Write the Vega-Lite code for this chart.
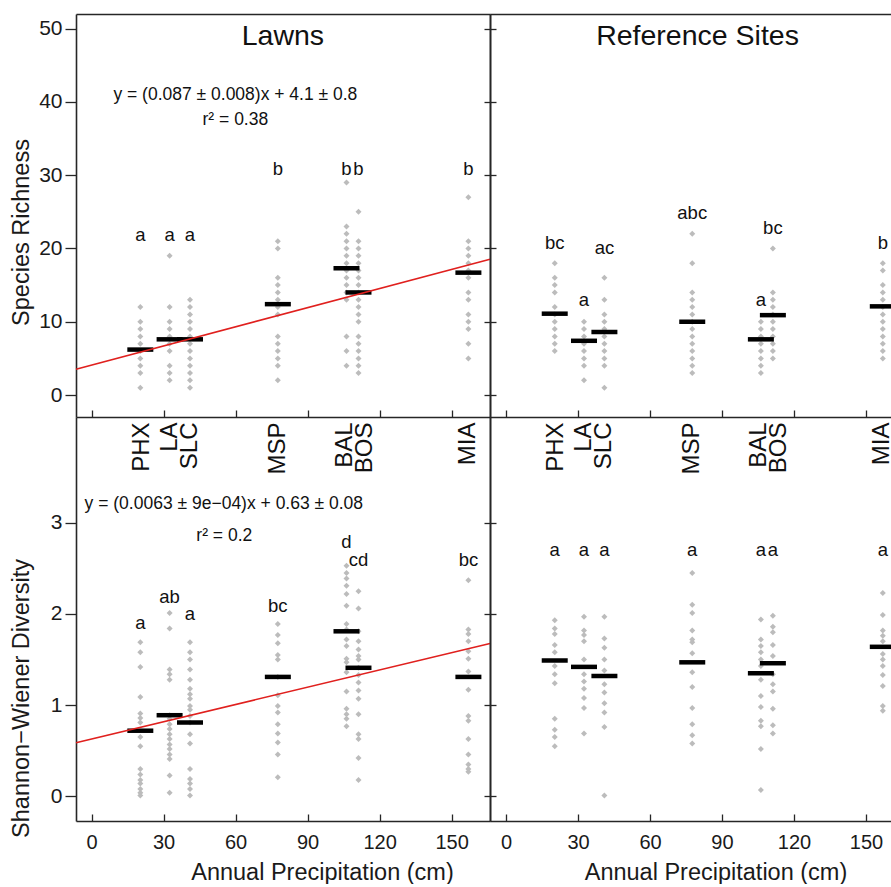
{
  "$schema": "https://vega.github.io/schema/vega-lite/v6.json",
  "padding": {"left": 9, "top": 14, "right": 0, "bottom": 0},
  "background": "white",
  "datasets": {
    "sites": [
      {"city": "PHX", "p": 20.3, "lx": 20.8},
      {"city": "LA", "p": 32.5, "lx": 32.6},
      {"city": "SLC", "p": 41.0, "lx": 40.8},
      {"city": "MSP", "p": 77.6, "lx": 77.6},
      {"city": "BAL", "p": 106.2, "lx": 105.5},
      {"city": "BOS", "p": 111.2, "lx": 113.9},
      {"city": "MIA", "p": 157.0, "lx": 156.8}
    ],
    "richLawn": [
      {"city": "PHX", "v": 12}, {"city": "PHX", "v": 10}, {"city": "PHX", "v": 9}, {"city": "PHX", "v": 8}, {"city": "PHX", "v": 7}, {"city": "PHX", "v": 6}, {"city": "PHX", "v": 5}, {"city": "PHX", "v": 4}, {"city": "PHX", "v": 3}, {"city": "PHX", "v": 1},
      {"city": "LA", "v": 19}, {"city": "LA", "v": 12}, {"city": "LA", "v": 10}, {"city": "LA", "v": 9}, {"city": "LA", "v": 8}, {"city": "LA", "v": 7}, {"city": "LA", "v": 6}, {"city": "LA", "v": 4}, {"city": "LA", "v": 3}, {"city": "LA", "v": 2},
      {"city": "SLC", "v": 13}, {"city": "SLC", "v": 12}, {"city": "SLC", "v": 11}, {"city": "SLC", "v": 10}, {"city": "SLC", "v": 9}, {"city": "SLC", "v": 8}, {"city": "SLC", "v": 7}, {"city": "SLC", "v": 6}, {"city": "SLC", "v": 5}, {"city": "SLC", "v": 4}, {"city": "SLC", "v": 3}, {"city": "SLC", "v": 2}, {"city": "SLC", "v": 1},
      {"city": "MSP", "v": 21}, {"city": "MSP", "v": 20}, {"city": "MSP", "v": 16}, {"city": "MSP", "v": 15}, {"city": "MSP", "v": 14}, {"city": "MSP", "v": 13}, {"city": "MSP", "v": 12}, {"city": "MSP", "v": 11}, {"city": "MSP", "v": 8}, {"city": "MSP", "v": 7}, {"city": "MSP", "v": 6}, {"city": "MSP", "v": 5}, {"city": "MSP", "v": 4}, {"city": "MSP", "v": 2},
      {"city": "BAL", "v": 29}, {"city": "BAL", "v": 23}, {"city": "BAL", "v": 22}, {"city": "BAL", "v": 21}, {"city": "BAL", "v": 20}, {"city": "BAL", "v": 19}, {"city": "BAL", "v": 18}, {"city": "BAL", "v": 17}, {"city": "BAL", "v": 16}, {"city": "BAL", "v": 15}, {"city": "BAL", "v": 14}, {"city": "BAL", "v": 13}, {"city": "BAL", "v": 8}, {"city": "BAL", "v": 6}, {"city": "BAL", "v": 4},
      {"city": "BOS", "v": 25}, {"city": "BOS", "v": 21}, {"city": "BOS", "v": 20}, {"city": "BOS", "v": 19}, {"city": "BOS", "v": 18}, {"city": "BOS", "v": 17}, {"city": "BOS", "v": 16}, {"city": "BOS", "v": 15}, {"city": "BOS", "v": 14}, {"city": "BOS", "v": 13}, {"city": "BOS", "v": 12}, {"city": "BOS", "v": 11}, {"city": "BOS", "v": 10}, {"city": "BOS", "v": 8}, {"city": "BOS", "v": 7}, {"city": "BOS", "v": 6}, {"city": "BOS", "v": 5}, {"city": "BOS", "v": 4}, {"city": "BOS", "v": 3},
      {"city": "MIA", "v": 27}, {"city": "MIA", "v": 21}, {"city": "MIA", "v": 20}, {"city": "MIA", "v": 19}, {"city": "MIA", "v": 18}, {"city": "MIA", "v": 17}, {"city": "MIA", "v": 16}, {"city": "MIA", "v": 14}, {"city": "MIA", "v": 13}, {"city": "MIA", "v": 11}, {"city": "MIA", "v": 10}, {"city": "MIA", "v": 9}, {"city": "MIA", "v": 7}, {"city": "MIA", "v": 5}
    ],
    "richRef": [
      {"city": "PHX", "v": 18}, {"city": "PHX", "v": 16}, {"city": "PHX", "v": 15}, {"city": "PHX", "v": 14}, {"city": "PHX", "v": 12}, {"city": "PHX", "v": 11}, {"city": "PHX", "v": 10}, {"city": "PHX", "v": 9}, {"city": "PHX", "v": 8}, {"city": "PHX", "v": 7}, {"city": "PHX", "v": 6},
      {"city": "LA", "v": 10}, {"city": "LA", "v": 9}, {"city": "LA", "v": 8}, {"city": "LA", "v": 7}, {"city": "LA", "v": 6}, {"city": "LA", "v": 5}, {"city": "LA", "v": 4}, {"city": "LA", "v": 2},
      {"city": "SLC", "v": 16}, {"city": "SLC", "v": 13}, {"city": "SLC", "v": 11}, {"city": "SLC", "v": 10}, {"city": "SLC", "v": 9}, {"city": "SLC", "v": 8}, {"city": "SLC", "v": 7}, {"city": "SLC", "v": 6}, {"city": "SLC", "v": 5}, {"city": "SLC", "v": 4}, {"city": "SLC", "v": 1},
      {"city": "MSP", "v": 22}, {"city": "MSP", "v": 18}, {"city": "MSP", "v": 14}, {"city": "MSP", "v": 13}, {"city": "MSP", "v": 12}, {"city": "MSP", "v": 11}, {"city": "MSP", "v": 10}, {"city": "MSP", "v": 9}, {"city": "MSP", "v": 8}, {"city": "MSP", "v": 7}, {"city": "MSP", "v": 6}, {"city": "MSP", "v": 5}, {"city": "MSP", "v": 4}, {"city": "MSP", "v": 3},
      {"city": "BAL", "v": 10}, {"city": "BAL", "v": 9}, {"city": "BAL", "v": 8}, {"city": "BAL", "v": 7}, {"city": "BAL", "v": 6}, {"city": "BAL", "v": 5}, {"city": "BAL", "v": 4}, {"city": "BAL", "v": 3},
      {"city": "BOS", "v": 20}, {"city": "BOS", "v": 14}, {"city": "BOS", "v": 13}, {"city": "BOS", "v": 12}, {"city": "BOS", "v": 11}, {"city": "BOS", "v": 10}, {"city": "BOS", "v": 9}, {"city": "BOS", "v": 8}, {"city": "BOS", "v": 7}, {"city": "BOS", "v": 6}, {"city": "BOS", "v": 5},
      {"city": "MIA", "v": 18}, {"city": "MIA", "v": 17}, {"city": "MIA", "v": 15}, {"city": "MIA", "v": 14}, {"city": "MIA", "v": 13}, {"city": "MIA", "v": 12}, {"city": "MIA", "v": 11}, {"city": "MIA", "v": 10}, {"city": "MIA", "v": 9}, {"city": "MIA", "v": 8}, {"city": "MIA", "v": 7}, {"city": "MIA", "v": 6}, {"city": "MIA", "v": 5}
    ],
    "divLawn": [
      {"city": "PHX", "v": 1.69}, {"city": "PHX", "v": 1.58}, {"city": "PHX", "v": 1.42}, {"city": "PHX", "v": 1.09}, {"city": "PHX", "v": 0.91}, {"city": "PHX", "v": 0.86}, {"city": "PHX", "v": 0.81}, {"city": "PHX", "v": 0.65}, {"city": "PHX", "v": 0.55}, {"city": "PHX", "v": 0.30}, {"city": "PHX", "v": 0.24}, {"city": "PHX", "v": 0.18}, {"city": "PHX", "v": 0.14}, {"city": "PHX", "v": 0.08}, {"city": "PHX", "v": 0.04}, {"city": "PHX", "v": 0.01},
      {"city": "LA", "v": 2.01}, {"city": "LA", "v": 1.84}, {"city": "LA", "v": 1.39}, {"city": "LA", "v": 1.34}, {"city": "LA", "v": 1.28}, {"city": "LA", "v": 0.89}, {"city": "LA", "v": 0.85}, {"city": "LA", "v": 0.79}, {"city": "LA", "v": 0.74}, {"city": "LA", "v": 0.68}, {"city": "LA", "v": 0.63}, {"city": "LA", "v": 0.57}, {"city": "LA", "v": 0.52}, {"city": "LA", "v": 0.46}, {"city": "LA", "v": 0.41}, {"city": "LA", "v": 0.23}, {"city": "LA", "v": 0.04},
      {"city": "SLC", "v": 1.69}, {"city": "SLC", "v": 1.58}, {"city": "SLC", "v": 1.50}, {"city": "SLC", "v": 1.39}, {"city": "SLC", "v": 1.28}, {"city": "SLC", "v": 1.18}, {"city": "SLC", "v": 1.12}, {"city": "SLC", "v": 1.07}, {"city": "SLC", "v": 0.99}, {"city": "SLC", "v": 0.95}, {"city": "SLC", "v": 0.88}, {"city": "SLC", "v": 0.81}, {"city": "SLC", "v": 0.68}, {"city": "SLC", "v": 0.58}, {"city": "SLC", "v": 0.30}, {"city": "SLC", "v": 0.19}, {"city": "SLC", "v": 0.14}, {"city": "SLC", "v": 0.08}, {"city": "SLC", "v": 0.01},
      {"city": "MSP", "v": 1.89}, {"city": "MSP", "v": 1.77}, {"city": "MSP", "v": 1.68}, {"city": "MSP", "v": 1.55}, {"city": "MSP", "v": 1.50}, {"city": "MSP", "v": 1.31}, {"city": "MSP", "v": 1.11}, {"city": "MSP", "v": 0.99}, {"city": "MSP", "v": 0.92}, {"city": "MSP", "v": 0.79}, {"city": "MSP", "v": 0.69}, {"city": "MSP", "v": 0.59}, {"city": "MSP", "v": 0.46}, {"city": "MSP", "v": 0.21},
      {"city": "BAL", "v": 2.53}, {"city": "BAL", "v": 2.45}, {"city": "BAL", "v": 2.39}, {"city": "BAL", "v": 2.31}, {"city": "BAL", "v": 2.22}, {"city": "BAL", "v": 2.09}, {"city": "BAL", "v": 1.89}, {"city": "BAL", "v": 1.83}, {"city": "BAL", "v": 1.72}, {"city": "BAL", "v": 1.65}, {"city": "BAL", "v": 1.51}, {"city": "BAL", "v": 1.47}, {"city": "BAL", "v": 1.36}, {"city": "BAL", "v": 1.15}, {"city": "BAL", "v": 0.96}, {"city": "BAL", "v": 0.90}, {"city": "BAL", "v": 0.85}, {"city": "BAL", "v": 0.77},
      {"city": "BOS", "v": 2.25}, {"city": "BOS", "v": 2.06}, {"city": "BOS", "v": 1.81}, {"city": "BOS", "v": 1.70}, {"city": "BOS", "v": 1.61}, {"city": "BOS", "v": 1.54}, {"city": "BOS", "v": 1.50}, {"city": "BOS", "v": 1.41}, {"city": "BOS", "v": 1.33}, {"city": "BOS", "v": 1.25}, {"city": "BOS", "v": 1.16}, {"city": "BOS", "v": 1.07}, {"city": "BOS", "v": 0.90}, {"city": "BOS", "v": 0.68}, {"city": "BOS", "v": 0.63}, {"city": "BOS", "v": 0.42}, {"city": "BOS", "v": 0.18},
      {"city": "MIA", "v": 2.37}, {"city": "MIA", "v": 1.83}, {"city": "MIA", "v": 1.78}, {"city": "MIA", "v": 1.70}, {"city": "MIA", "v": 1.59}, {"city": "MIA", "v": 1.51}, {"city": "MIA", "v": 1.37}, {"city": "MIA", "v": 1.17}, {"city": "MIA", "v": 0.88}, {"city": "MIA", "v": 0.83}, {"city": "MIA", "v": 0.63}, {"city": "MIA", "v": 0.46}, {"city": "MIA", "v": 0.35}, {"city": "MIA", "v": 0.30}, {"city": "MIA", "v": 0.27}
    ],
    "divRef": [
      {"city": "PHX", "v": 1.93}, {"city": "PHX", "v": 1.84}, {"city": "PHX", "v": 1.78}, {"city": "PHX", "v": 1.66}, {"city": "PHX", "v": 1.58}, {"city": "PHX", "v": 1.43}, {"city": "PHX", "v": 1.34}, {"city": "PHX", "v": 1.24}, {"city": "PHX", "v": 0.85}, {"city": "PHX", "v": 0.73}, {"city": "PHX", "v": 0.65}, {"city": "PHX", "v": 0.55},
      {"city": "LA", "v": 1.97}, {"city": "LA", "v": 1.82}, {"city": "LA", "v": 1.77}, {"city": "LA", "v": 1.70}, {"city": "LA", "v": 1.50}, {"city": "LA", "v": 1.34}, {"city": "LA", "v": 1.26}, {"city": "LA", "v": 1.18}, {"city": "LA", "v": 1.08}, {"city": "LA", "v": 0.97}, {"city": "LA", "v": 0.69},
      {"city": "SLC", "v": 1.97}, {"city": "SLC", "v": 1.73}, {"city": "SLC", "v": 1.63}, {"city": "SLC", "v": 1.50}, {"city": "SLC", "v": 1.38}, {"city": "SLC", "v": 1.23}, {"city": "SLC", "v": 1.14}, {"city": "SLC", "v": 1.02}, {"city": "SLC", "v": 0.92}, {"city": "SLC", "v": 0.76}, {"city": "SLC", "v": 0.01},
      {"city": "MSP", "v": 2.45}, {"city": "MSP", "v": 2.10}, {"city": "MSP", "v": 2.01}, {"city": "MSP", "v": 1.82}, {"city": "MSP", "v": 1.72}, {"city": "MSP", "v": 1.69}, {"city": "MSP", "v": 1.57}, {"city": "MSP", "v": 1.36}, {"city": "MSP", "v": 1.20}, {"city": "MSP", "v": 0.97}, {"city": "MSP", "v": 0.79}, {"city": "MSP", "v": 0.67}, {"city": "MSP", "v": 0.58},
      {"city": "BAL", "v": 1.94}, {"city": "BAL", "v": 1.72}, {"city": "BAL", "v": 1.65}, {"city": "BAL", "v": 1.58}, {"city": "BAL", "v": 1.50}, {"city": "BAL", "v": 1.43}, {"city": "BAL", "v": 1.28}, {"city": "BAL", "v": 1.10}, {"city": "BAL", "v": 0.98}, {"city": "BAL", "v": 0.83}, {"city": "BAL", "v": 0.77}, {"city": "BAL", "v": 0.52}, {"city": "BAL", "v": 0.07},
      {"city": "BOS", "v": 1.98}, {"city": "BOS", "v": 1.86}, {"city": "BOS", "v": 1.80}, {"city": "BOS", "v": 1.66}, {"city": "BOS", "v": 1.54}, {"city": "BOS", "v": 1.34}, {"city": "BOS", "v": 1.23}, {"city": "BOS", "v": 1.15}, {"city": "BOS", "v": 0.96}, {"city": "BOS", "v": 0.78}, {"city": "BOS", "v": 0.69},
      {"city": "MIA", "v": 2.23}, {"city": "MIA", "v": 1.99}, {"city": "MIA", "v": 1.82}, {"city": "MIA", "v": 1.76}, {"city": "MIA", "v": 1.70}, {"city": "MIA", "v": 1.56}, {"city": "MIA", "v": 1.50}, {"city": "MIA", "v": 1.43}, {"city": "MIA", "v": 1.33}, {"city": "MIA", "v": 1.21}, {"city": "MIA", "v": 0.99}, {"city": "MIA", "v": 0.94}
    ],
    "means": [
      {"g": "richLawn", "city": "PHX", "mean": 6.2}, {"g": "richLawn", "city": "LA", "mean": 7.6}, {"g": "richLawn", "city": "SLC", "mean": 7.6}, {"g": "richLawn", "city": "MSP", "mean": 12.4}, {"g": "richLawn", "city": "BAL", "mean": 17.3}, {"g": "richLawn", "city": "BOS", "mean": 14.0}, {"g": "richLawn", "city": "MIA", "mean": 16.7},
      {"g": "richRef", "city": "PHX", "mean": 11.1}, {"g": "richRef", "city": "LA", "mean": 7.4}, {"g": "richRef", "city": "SLC", "mean": 8.6}, {"g": "richRef", "city": "MSP", "mean": 10.0}, {"g": "richRef", "city": "BAL", "mean": 7.6}, {"g": "richRef", "city": "BOS", "mean": 10.9}, {"g": "richRef", "city": "MIA", "mean": 12.1},
      {"g": "divLawn", "city": "PHX", "mean": 0.72}, {"g": "divLawn", "city": "LA", "mean": 0.89}, {"g": "divLawn", "city": "SLC", "mean": 0.81}, {"g": "divLawn", "city": "MSP", "mean": 1.31}, {"g": "divLawn", "city": "BAL", "mean": 1.81}, {"g": "divLawn", "city": "BOS", "mean": 1.41}, {"g": "divLawn", "city": "MIA", "mean": 1.31},
      {"g": "divRef", "city": "PHX", "mean": 1.49}, {"g": "divRef", "city": "LA", "mean": 1.42}, {"g": "divRef", "city": "SLC", "mean": 1.32}, {"g": "divRef", "city": "MSP", "mean": 1.47}, {"g": "divRef", "city": "BAL", "mean": 1.35}, {"g": "divRef", "city": "BOS", "mean": 1.46}, {"g": "divRef", "city": "MIA", "mean": 1.64}
    ],
    "letters": [
      {"g": "richLawn", "city": "PHX", "lab": "a", "ly": 21.9}, {"g": "richLawn", "city": "LA", "lab": "a", "ly": 21.9}, {"g": "richLawn", "city": "SLC", "lab": "a", "ly": 21.9}, {"g": "richLawn", "city": "MSP", "lab": "b", "ly": 30.8}, {"g": "richLawn", "city": "BAL", "lab": "b", "ly": 30.8}, {"g": "richLawn", "city": "BOS", "lab": "b", "ly": 30.8}, {"g": "richLawn", "city": "MIA", "lab": "b", "ly": 30.8},
      {"g": "richRef", "city": "PHX", "lab": "bc", "ly": 20.8}, {"g": "richRef", "city": "LA", "lab": "a", "ly": 13.0}, {"g": "richRef", "city": "SLC", "lab": "ac", "ly": 20.1}, {"g": "richRef", "city": "MSP", "lab": "abc", "ly": 24.9}, {"g": "richRef", "city": "BAL", "lab": "a", "ly": 13.0}, {"g": "richRef", "city": "BOS", "lab": "bc", "ly": 22.8}, {"g": "richRef", "city": "MIA", "lab": "b", "ly": 20.8},
      {"g": "divLawn", "city": "PHX", "lab": "a", "ly": 1.9}, {"g": "divLawn", "city": "LA", "lab": "ab", "ly": 2.19}, {"g": "divLawn", "city": "SLC", "lab": "a", "ly": 2.0}, {"g": "divLawn", "city": "MSP", "lab": "bc", "ly": 2.09}, {"g": "divLawn", "city": "BAL", "lab": "d", "ly": 2.79}, {"g": "divLawn", "city": "BOS", "lab": "cd", "ly": 2.59}, {"g": "divLawn", "city": "MIA", "lab": "bc", "ly": 2.59},
      {"g": "divRef", "city": "PHX", "lab": "a", "ly": 2.7}, {"g": "divRef", "city": "LA", "lab": "a", "ly": 2.7}, {"g": "divRef", "city": "SLC", "lab": "a", "ly": 2.7}, {"g": "divRef", "city": "MSP", "lab": "a", "ly": 2.7}, {"g": "divRef", "city": "BAL", "lab": "a", "ly": 2.7}, {"g": "divRef", "city": "BOS", "lab": "a", "ly": 2.7}, {"g": "divRef", "city": "MIA", "lab": "a", "ly": 2.7}
    ],
    "fit": [
      {"g": "richLawn", "x": -6.5, "y": 3.53}, {"g": "richLawn", "x": 166, "y": 18.54},
      {"g": "divLawn", "x": -6.5, "y": 0.589}, {"g": "divLawn", "x": 166, "y": 1.676}
    ]
  },
  "columns": 2,
  "spacing": 0,
  "bounds": "flush",
  "concat": [
    {
      "width": 414,
      "height": 403,
      "resolve": {"axis": {"x": "independent", "y": "independent"}},
      "layer": [
        {
          "data": {"name": "richLawn"},
          "transform": [{"lookup": "city", "from": {"data": {"name": "sites"}, "key": "city", "fields": ["p"]}}],
          "mark": {"type": "point", "shape": "diamond", "filled": true, "size": 36, "color": "#bcbcbc", "opacity": 1},
          "encoding": {
            "x": {"field": "p", "type": "quantitative", "scale": {"domain": [-6.5, 166], "nice": false, "zero": false},
              "axis": {"orient": "bottom", "values": [0, 30, 60, 90, 120, 150], "tickSize": -7, "labels": false, "title": null}},
            "y": {"field": "v", "type": "quantitative", "scale": {"domain": [-3, 52], "nice": false, "zero": false},
              "axis": {"orient": "left", "values": [0, 10, 20, 30, 40, 50], "tickSize": 11, "labelPadding": 3, "labelFontSize": 21, "title": "Species Richness", "titleX": -48, "titleY": 218, "titleBaseline": "alphabetic", "titleAlign": "center"}}
          }
        },
        {
          "data": {"name": "means"},
          "transform": [{"filter": "datum.g == 'richLawn'"}, {"lookup": "city", "from": {"data": {"name": "sites"}, "key": "city", "fields": ["p"]}}],
          "mark": {"type": "tick", "orient": "horizontal", "size": 26, "thickness": 4.5, "color": "black", "opacity": 1},
          "encoding": {
            "x": {"field": "p", "type": "quantitative", "scale": {"domain": [-6.5, 166], "nice": false, "zero": false},
              "axis": {"orient": "top", "ticks": false, "labels": false, "title": null}},
            "y": {"field": "mean", "type": "quantitative", "scale": {"domain": [-3, 52], "nice": false, "zero": false},
              "axis": {"orient": "right", "values": [0, 10, 20, 30, 40, 50], "tickSize": -6, "labels": false, "title": null}}
          }
        },
        {
          "data": {"name": "fit"},
          "transform": [{"filter": "datum.g == 'richLawn'"}],
          "mark": {"type": "line", "color": "#e0201e", "strokeWidth": 1.6},
          "encoding": {
            "x": {"field": "x", "type": "quantitative", "axis": null},
            "y": {"field": "y", "type": "quantitative", "axis": null}
          }
        },
        {
          "data": {"name": "letters"},
          "transform": [{"filter": "datum.g == 'richLawn'"}, {"lookup": "city", "from": {"data": {"name": "sites"}, "key": "city", "fields": ["p"]}}],
          "mark": {"type": "text", "fontSize": 18.5, "baseline": "middle", "color": "#111"},
          "encoding": {
            "x": {"field": "p", "type": "quantitative", "axis": null},
            "y": {"field": "ly", "type": "quantitative", "axis": null},
            "text": {"field": "lab"}
          }
        },
        {
          "data": {"values": [{}]},
          "mark": {"type": "text", "text": "Lawns", "fontSize": 28.5, "baseline": "middle", "color": "#111"},
          "encoding": {"x": {"datum": 79.7, "type": "quantitative", "axis": null}, "y": {"datum": 49.0, "type": "quantitative", "axis": null}}
        },
        {
          "data": {"values": [{}]},
          "mark": {"type": "text", "text": "y = (0.087 ± 0.008)x + 4.1 ± 0.8", "fontSize": 17.5, "baseline": "middle", "color": "#111"},
          "encoding": {"x": {"datum": 59.9, "type": "quantitative", "axis": null}, "y": {"datum": 40.9, "type": "quantitative", "axis": null}}
        },
        {
          "data": {"values": [{}]},
          "mark": {"type": "text", "text": "r² = 0.38", "fontSize": 17.5, "baseline": "middle", "color": "#111"},
          "encoding": {"x": {"datum": 59.9, "type": "quantitative", "axis": null}, "y": {"datum": 37.5, "type": "quantitative", "axis": null}}
        }
      ]
    },
    {
      "width": 401,
      "height": 403,
      "resolve": {"axis": {"x": "independent", "y": "independent"}},
      "layer": [
        {
          "data": {"name": "richRef"},
          "transform": [{"lookup": "city", "from": {"data": {"name": "sites"}, "key": "city", "fields": ["p"]}}],
          "mark": {"type": "point", "shape": "diamond", "filled": true, "size": 36, "color": "#bcbcbc", "opacity": 1, "clip": true},
          "encoding": {
            "x": {"field": "p", "type": "quantitative", "scale": {"domain": [-6.67, 160.42], "nice": false, "zero": false},
              "axis": {"orient": "bottom", "values": [0, 30, 60, 90, 120, 150], "tickSize": -7, "labels": false, "title": null}},
            "y": {"field": "v", "type": "quantitative", "scale": {"domain": [-3, 52], "nice": false, "zero": false},
              "axis": {"orient": "left", "values": [0, 10, 20, 30, 40, 50], "tickSize": -6, "labels": false, "title": null}}
          }
        },
        {
          "data": {"name": "means"},
          "transform": [{"filter": "datum.g == 'richRef'"}, {"lookup": "city", "from": {"data": {"name": "sites"}, "key": "city", "fields": ["p"]}}],
          "mark": {"type": "tick", "orient": "horizontal", "size": 26, "thickness": 4.5, "color": "black", "opacity": 1, "clip": true},
          "encoding": {
            "x": {"field": "p", "type": "quantitative", "scale": {"domain": [-6.67, 160.42], "nice": false, "zero": false},
              "axis": {"orient": "top", "ticks": false, "labels": false, "title": null}},
            "y": {"field": "mean", "type": "quantitative", "scale": {"domain": [-3, 52], "nice": false, "zero": false}, "axis": null}
          }
        },
        {
          "data": {"name": "letters"},
          "transform": [{"filter": "datum.g == 'richRef'"}, {"lookup": "city", "from": {"data": {"name": "sites"}, "key": "city", "fields": ["p"]}}],
          "mark": {"type": "text", "fontSize": 18.5, "baseline": "middle", "color": "#111", "clip": true},
          "encoding": {
            "x": {"field": "p", "type": "quantitative", "axis": null},
            "y": {"field": "ly", "type": "quantitative", "axis": null},
            "text": {"field": "lab"}
          }
        },
        {
          "data": {"values": [{}]},
          "mark": {"type": "text", "text": "Reference Sites", "fontSize": 28.5, "baseline": "middle", "color": "#111"},
          "encoding": {"x": {"datum": 79.8, "type": "quantitative", "axis": null}, "y": {"datum": 49.0, "type": "quantitative", "axis": null}}
        }
      ]
    },
    {
      "width": 414,
      "height": 404,
      "resolve": {"axis": {"x": "independent", "y": "independent"}},
      "layer": [
        {
          "data": {"name": "divLawn"},
          "transform": [{"lookup": "city", "from": {"data": {"name": "sites"}, "key": "city", "fields": ["p"]}}],
          "mark": {"type": "point", "shape": "diamond", "filled": true, "size": 36, "color": "#bcbcbc", "opacity": 1},
          "encoding": {
            "x": {"field": "p", "type": "quantitative", "scale": {"domain": [-6.5, 166], "nice": false, "zero": false},
              "axis": {"orient": "bottom", "values": [0, 30, 60, 90, 120, 150], "tickSize": -7, "labelPadding": 18.5, "title": "Annual Precipitation (cm)", "titleX": 246, "titleY": 58, "titleBaseline": "alphabetic", "titleAlign": "center"}},
            "y": {"field": "v", "type": "quantitative", "scale": {"domain": [-0.27, 4.16], "nice": false, "zero": false},
              "axis": {"orient": "left", "values": [0, 1, 2, 3], "tickSize": 11, "labelPadding": 3, "labelFontSize": 21, "title": "Shannon−Wiener Diversity", "titleX": -48, "titleY": 281, "titleBaseline": "alphabetic", "titleAlign": "center"}}
          }
        },
        {
          "data": {"name": "means"},
          "transform": [{"filter": "datum.g == 'divLawn'"}, {"lookup": "city", "from": {"data": {"name": "sites"}, "key": "city", "fields": ["p"]}}],
          "mark": {"type": "tick", "orient": "horizontal", "size": 26, "thickness": 4.5, "color": "black", "opacity": 1},
          "encoding": {
            "x": {"field": "p", "type": "quantitative", "scale": {"domain": [-6.5, 166], "nice": false, "zero": false}, "axis": null},
            "y": {"field": "mean", "type": "quantitative", "scale": {"domain": [-0.27, 4.16], "nice": false, "zero": false},
              "axis": {"orient": "right", "values": [0, 1, 2, 3], "tickSize": -6, "labels": false, "title": null}}
          }
        },
        {
          "data": {"name": "fit"},
          "transform": [{"filter": "datum.g == 'divLawn'"}],
          "mark": {"type": "line", "color": "#e0201e", "strokeWidth": 1.6},
          "encoding": {
            "x": {"field": "x", "type": "quantitative", "axis": null},
            "y": {"field": "y", "type": "quantitative", "axis": null}
          }
        },
        {
          "data": {"name": "letters"},
          "transform": [{"filter": "datum.g == 'divLawn'"}, {"lookup": "city", "from": {"data": {"name": "sites"}, "key": "city", "fields": ["p"]}}],
          "mark": {"type": "text", "fontSize": 18.5, "baseline": "middle", "color": "#111"},
          "encoding": {
            "x": {"field": "p", "type": "quantitative", "axis": null},
            "y": {"field": "ly", "type": "quantitative", "axis": null},
            "text": {"field": "lab"}
          }
        },
        {
          "data": {"name": "sites"},
          "mark": {"type": "text", "fontSize": 24, "angle": 270, "align": "right", "baseline": "middle", "color": "#111"},
          "encoding": {
            "x": {"field": "lx", "type": "quantitative", "axis": null},
            "y": {"datum": 4.1, "type": "quantitative", "axis": null},
            "text": {"field": "city"}
          }
        },
        {
          "data": {"values": [{}]},
          "mark": {"type": "text", "text": "y = (0.0063 ± 9e−04)x + 0.63 ± 0.08", "fontSize": 17.5, "baseline": "middle", "color": "#111"},
          "encoding": {"x": {"datum": 55.1, "type": "quantitative", "axis": null}, "y": {"datum": 3.207, "type": "quantitative", "axis": null}}
        },
        {
          "data": {"values": [{}]},
          "mark": {"type": "text", "text": "r² = 0.2", "fontSize": 17.5, "baseline": "middle", "color": "#111"},
          "encoding": {"x": {"datum": 55.3, "type": "quantitative", "axis": null}, "y": {"datum": 2.854, "type": "quantitative", "axis": null}}
        }
      ]
    },
    {
      "width": 401,
      "height": 404,
      "resolve": {"axis": {"x": "independent", "y": "independent"}},
      "layer": [
        {
          "data": {"name": "divRef"},
          "transform": [{"lookup": "city", "from": {"data": {"name": "sites"}, "key": "city", "fields": ["p"]}}],
          "mark": {"type": "point", "shape": "diamond", "filled": true, "size": 36, "color": "#bcbcbc", "opacity": 1, "clip": true},
          "encoding": {
            "x": {"field": "p", "type": "quantitative", "scale": {"domain": [-6.67, 160.42], "nice": false, "zero": false},
              "axis": {"orient": "bottom", "values": [0, 30, 60, 90, 120, 150], "tickSize": -7, "labelPadding": 18.5, "title": "Annual Precipitation (cm)", "titleX": 225.5, "titleY": 58, "titleBaseline": "alphabetic", "titleAlign": "center"}},
            "y": {"field": "v", "type": "quantitative", "scale": {"domain": [-0.27, 4.16], "nice": false, "zero": false},
              "axis": {"orient": "left", "values": [0, 1, 2, 3], "tickSize": -6, "labels": false, "title": null}}
          }
        },
        {
          "data": {"name": "means"},
          "transform": [{"filter": "datum.g == 'divRef'"}, {"lookup": "city", "from": {"data": {"name": "sites"}, "key": "city", "fields": ["p"]}}],
          "mark": {"type": "tick", "orient": "horizontal", "size": 26, "thickness": 4.5, "color": "black", "opacity": 1, "clip": true},
          "encoding": {
            "x": {"field": "p", "type": "quantitative", "scale": {"domain": [-6.67, 160.42], "nice": false, "zero": false}, "axis": null},
            "y": {"field": "mean", "type": "quantitative", "scale": {"domain": [-0.27, 4.16], "nice": false, "zero": false}, "axis": null}
          }
        },
        {
          "data": {"name": "letters"},
          "transform": [{"filter": "datum.g == 'divRef'"}, {"lookup": "city", "from": {"data": {"name": "sites"}, "key": "city", "fields": ["p"]}}],
          "mark": {"type": "text", "fontSize": 18.5, "baseline": "middle", "color": "#111", "clip": true},
          "encoding": {
            "x": {"field": "p", "type": "quantitative", "axis": null},
            "y": {"field": "ly", "type": "quantitative", "axis": null},
            "text": {"field": "lab"}
          }
        },
        {
          "data": {"name": "sites"},
          "mark": {"type": "text", "fontSize": 24, "angle": 270, "align": "right", "baseline": "middle", "color": "#111", "clip": true},
          "encoding": {
            "x": {"field": "lx", "type": "quantitative", "axis": null},
            "y": {"datum": 4.1, "type": "quantitative", "axis": null},
            "text": {"field": "city"}
          }
        }
      ]
    }
  ],
  "config": {
    "font": "Liberation Sans",
    "view": {"stroke": null},
    "axis": {
      "grid": false,
      "domainColor": "#262626",
      "domainWidth": 1.6,
      "tickColor": "#262626",
      "tickWidth": 1.3,
      "labelFont": "Liberation Sans",
      "labelFontSize": 20,
      "labelColor": "#1a1a1a",
      "labelFlush": false,
      "labelOverlap": false,
      "labelAngle": 0,
      "titleFont": "Liberation Sans",
      "titleFontSize": 23.5,
      "titleFontWeight": "normal",
      "titleColor": "#1a1a1a"
    }
  }
}
